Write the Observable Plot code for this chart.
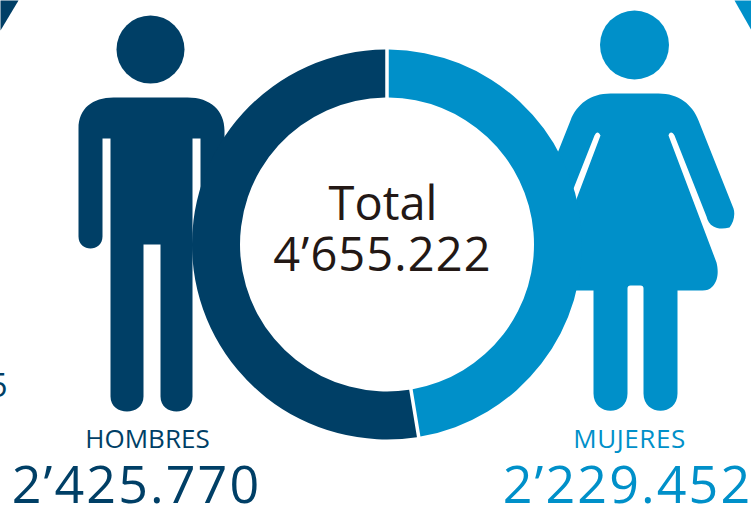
<!DOCTYPE html>
<html>
<head>
<meta charset="utf-8">
<script src="https://cdn.jsdelivr.net/npm/d3@7"></script>
<script src="https://cdn.jsdelivr.net/npm/@observablehq/plot@0.6"></script>
<style>
html,body{margin:0;padding:0;background:#fff;overflow:hidden}
svg{display:block}
.num-big text{letter-spacing:2.1px}
.num-mid text{letter-spacing:1.1px}
.name-m text{letter-spacing:.6px}
</style>
</head>
<body>
<div id="chart"></div>
<script>
const categories = ["MUJERES", "HOMBRES"];
const values = [2229452, 2425770];
// slice shares (%) as read from the drawn ring
const sliceShares = [47.4, 52.6];
const totalLabel = "Total";
const colors = {MUJERES: "#0090c9", HOMBRES: "#003f66"};
const ink = "#231815";
const fontFamily = "'Open Sans', sans-serif";

const W = 751, H = 506;
const cx = 386.5, cy = 244, rOuter = 195, rInner = 147;

const fmt = (v) => {
  const s = String(v).padStart(7, "0");
  return `${+s.slice(0, 1)}’${s.slice(1, 4)}.${s.slice(4)}`;
};
const total = d3.sum(values);

// pictogram outline: drawn relative to the anchor of its dot
function shape(ox, oy, cmds) {
  return {
    draw(ctx) {
      for (const [c, ...a] of cmds) {
        const p = a.map((v, i) => v - (i % 2 ? oy : ox));
        if (c === "M") ctx.moveTo(...p);
        else if (c === "L") ctx.lineTo(...p);
        else if (c === "C") ctx.bezierCurveTo(...p);
        else if (c === "Q") ctx.quadraticCurveTo(...p);
        else if (c === "Z") ctx.closePath();
      }
    }
  };
}

const manBody = shape(150, 250, [
  ["M",113,97],["L",187,97],["C",210,97,224,110,224,130],["L",224,236],
  ["C",224,252,200,252,200,236],["L",200,138],["L",192,138],["L",192,396],
  ["C",192,416,160,416,160,396],["L",160,244],["L",143,244],["L",143,396],
  ["C",143,416,110,416,110,396],["L",110,138],["L",102,138],["L",102,236],
  ["C",102,252,78,252,78,236],["L",78,128],["C",78,108,92,97,113,97],["Z"]
]);

const womanBody = shape(634, 250, [
  ["M",610,93],["L",658,93],["C",678,93,692,104,698,120],["L",733,208],
  ["C",735,214,733,222,729,227],["C",722,229,716,228,713,226],["C",709,224,707,220,706,216],
  ["L",674,135],["C",672,131,669,131,668,135],["L",716,262],["C",718,270,718,280,712,286],
  ["C",709,289,706,290,702,290],["L",677,290],["L",677,393],
  ["C",677,416,643,416,643,393],["L",643,288],["Q",643,285,640,285],["L",630,285],
  ["Q",627,285,627,288],["L",627,393],["C",627,416,593,416,593,393],["L",593,290],
  ["L",566,290],["C",562,290,559,289,556,286],["C",550,280,550,270,552,262],
  ["L",600,135],["C",598,131,596,131,594,135],["L",562,216],["C",561,220,559,224,555,226],
  ["L",539,227],["C",535,222,533,214,535,208],["L",570,120],["C",576,104,590,93,610,93],["Z"]
]);

const cornerLeft = shape(0, 0, [["M",0,0],["L",18,0],["L",0,30],["Z"]]);
const cornerRight = shape(751, 0, [["M",751,0],["L",734,0],["L",751,30],["Z"]]);

// donut slices clockwise from 12 o'clock
const slices = d3.pie().sort(null)(sliceShares);
const arcGen = d3.arc().innerRadius(rInner).outerRadius(rOuter).padAngle(0.018).padRadius(rOuter);
const sliceSymbol = (s) => ({draw(ctx) { arcGen.context(ctx)(s); arcGen.context(null); }});

const pt = (x, y) => [{x, y}];
const glyph = (x, y, symbol, fill) =>
  Plot.dot(pt(x, y), {x: "x", y: "y", symbol, fill, stroke: null, r: 10});
const label = (text, x, y, fontSize, fill, className) =>
  Plot.text([text], {text: (d) => d, x: () => x, y: () => y, fontSize, fill, fontFamily,
    textAnchor: "middle", lineAnchor: "bottom", className});

const plot = Plot.plot({
  width: W, height: H,
  margin: 0,
  style: {background: "#fff", overflow: "hidden"},
  x: {domain: [0, W], range: [0, W], axis: null},
  y: {domain: [0, H], range: [0, H], axis: null},
  marks: [
    glyph(0, 0, cornerLeft, colors.HOMBRES),
    glyph(W, 0, cornerRight, colors.MUJERES),
    Plot.dot(pt(150, 49), {x: "x", y: "y", r: 34, fill: colors.HOMBRES}),
    glyph(150, 250, manBody, colors.HOMBRES),
    Plot.dot(pt(634, 44.5), {x: "x", y: "y", r: 34.5, fill: colors.MUJERES}),
    glyph(634, 250, womanBody, colors.MUJERES),
    ...slices.map((s, i) => glyph(cx, cy, sliceSymbol(s), colors[categories[i]])),
    label(totalLabel, 382.5, 219, 47, ink),
    label(fmt(total), 382, 270, 47, ink, "num-mid"),
    label(categories[1], 147, 447, 26, colors.HOMBRES),
    label(fmt(values[1]), 136, 502, 52, colors.HOMBRES, "num-big"),
    label(categories[0], 629, 447, 26, colors.MUJERES, "name-m"),
    label(fmt(values[0]), 627, 502, 52, colors.MUJERES, "num-big"),
    Plot.text(["5"], {text: (d) => d, x: () => 7, y: () => 396, fontSize: 32, fill: colors.HOMBRES,
      fontFamily, textAnchor: "end", lineAnchor: "bottom"})
  ]
});
document.getElementById("chart").append(plot);
</script>
</body>
</html>
